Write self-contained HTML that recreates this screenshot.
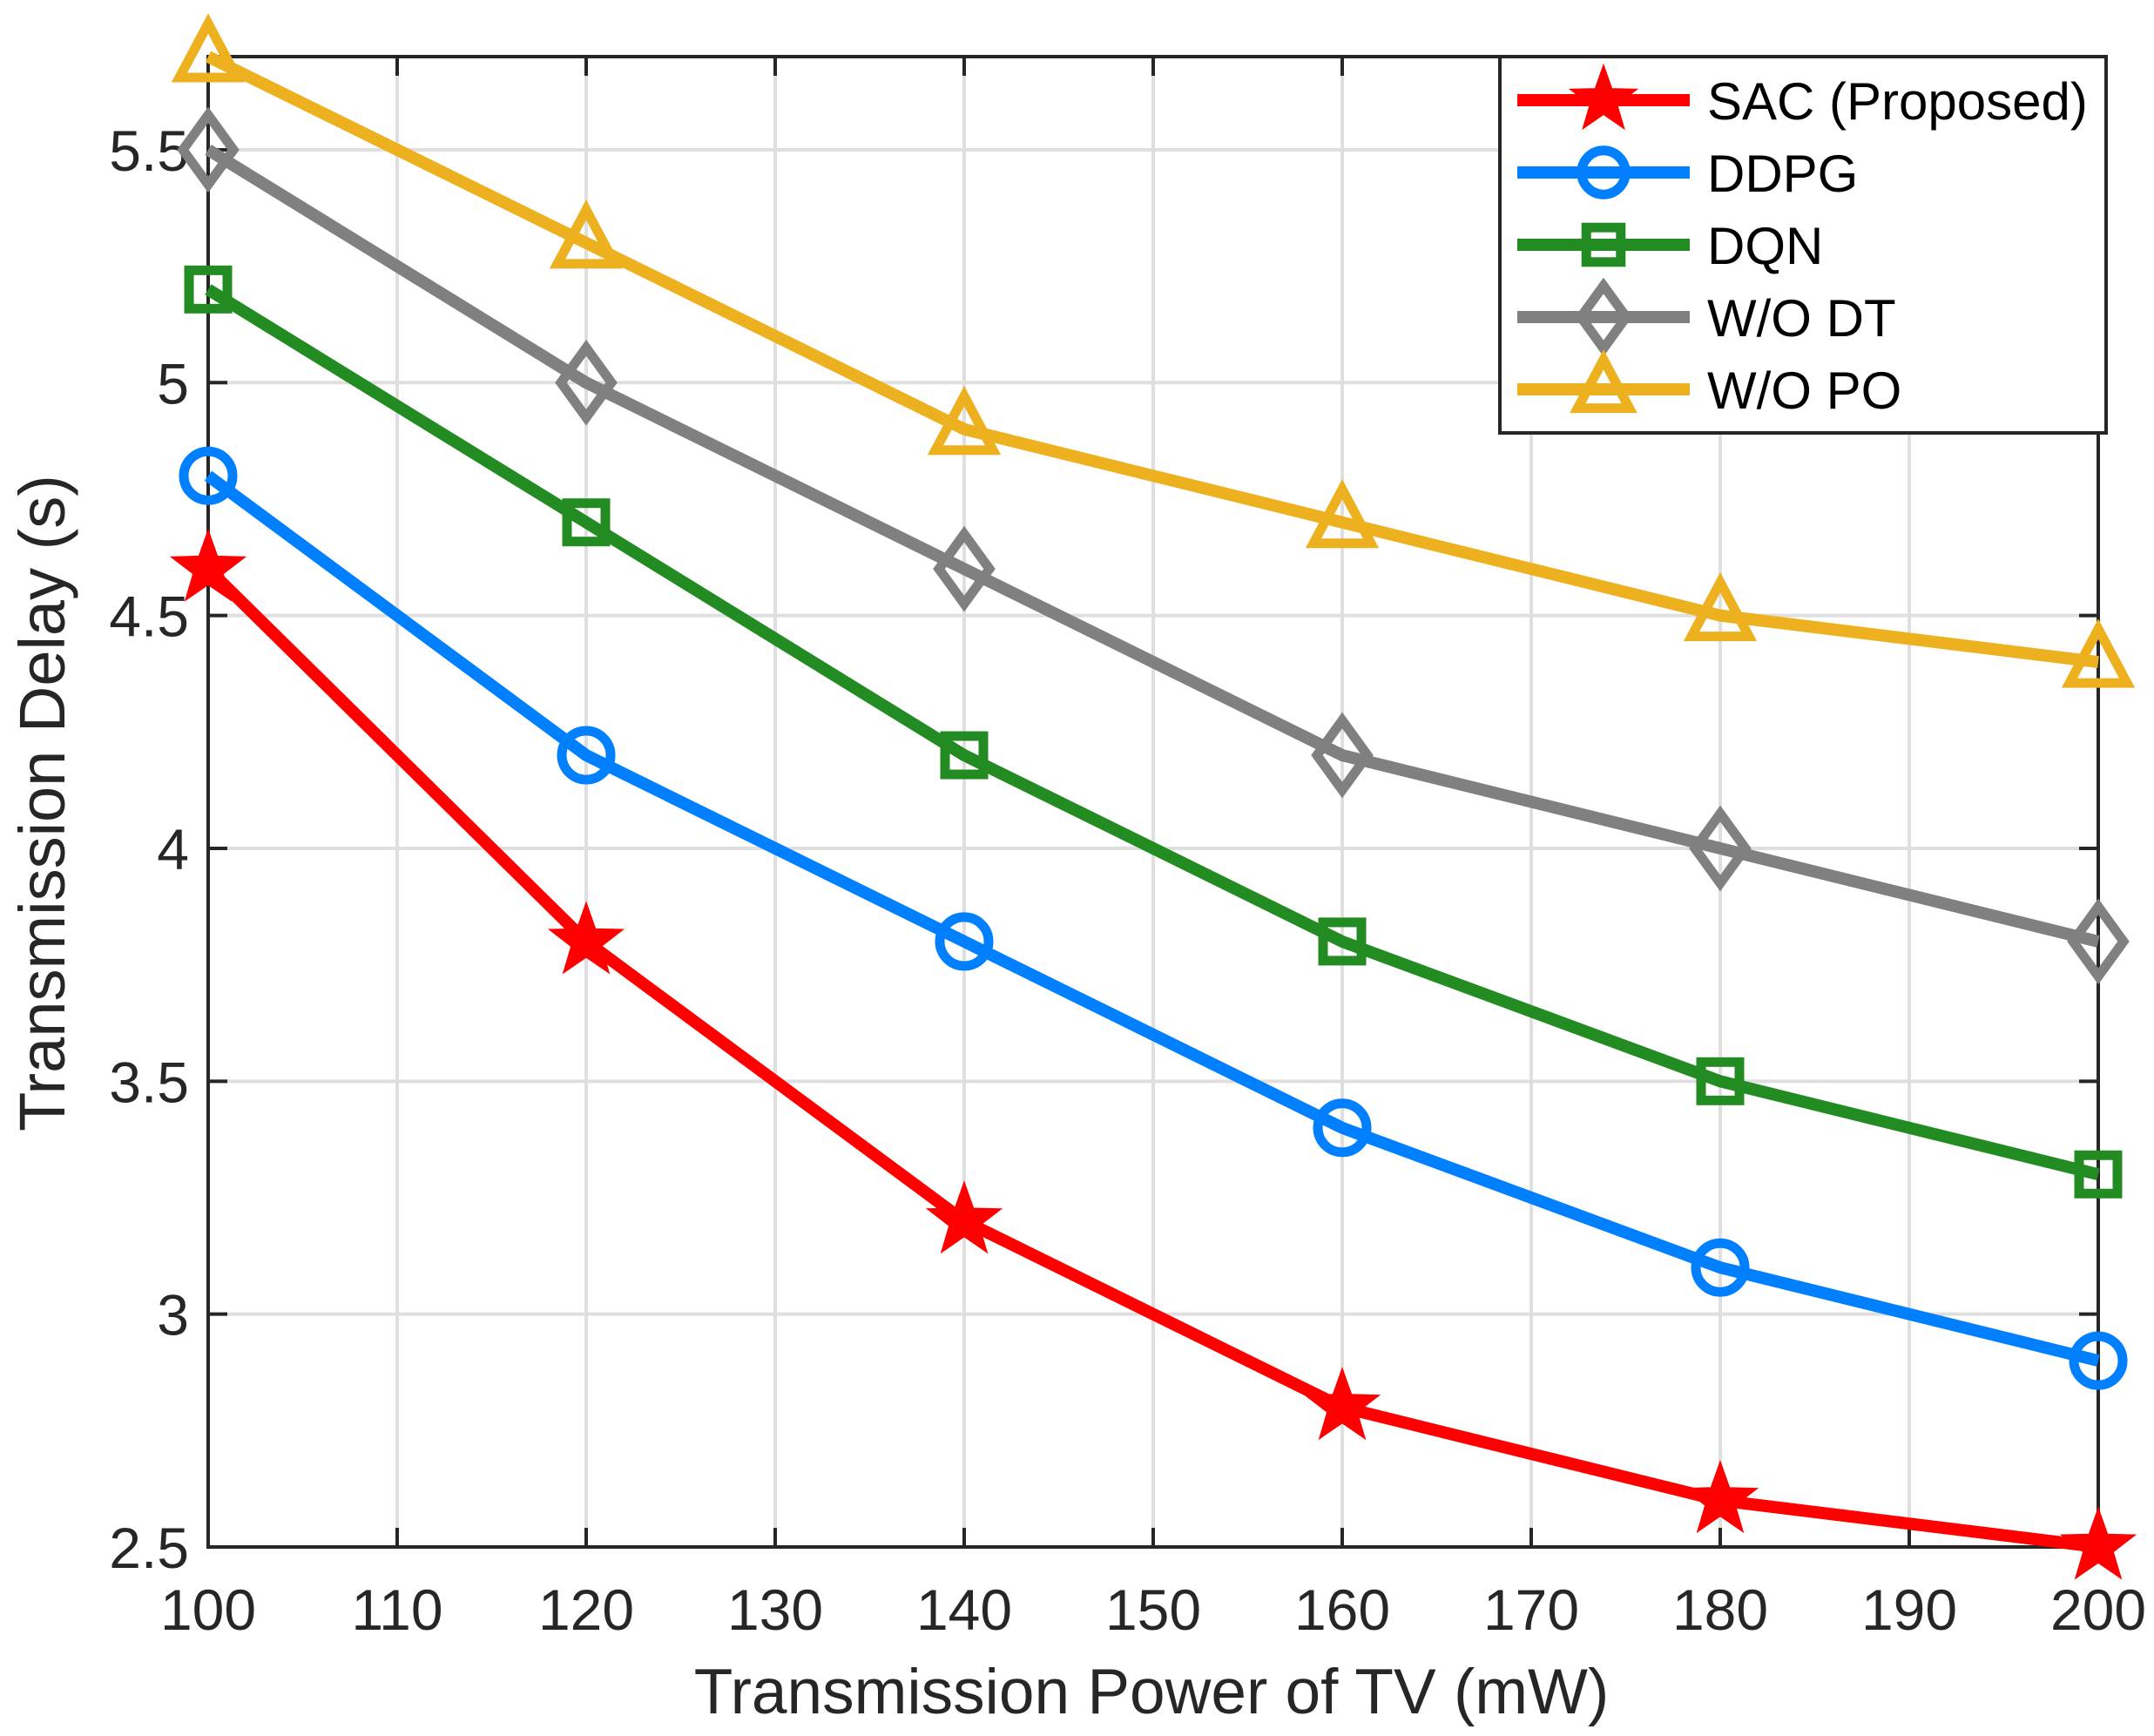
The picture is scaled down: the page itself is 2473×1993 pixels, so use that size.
<!DOCTYPE html>
<html><head><meta charset="utf-8"><style>
html,body{margin:0;padding:0;background:#fff;}
svg{display:block;font-family:"Liberation Sans",Arial,sans-serif;}
</style></head><body>
<svg id="chart" width="2473" height="1993" viewBox="0 0 2473 1993" xmlns="http://www.w3.org/2000/svg">
<rect width="2473" height="1993" fill="#fff"/>
<g id="grid"></g><g id="axes"></g><g id="series"></g><g id="legend"></g>
</svg>
<script>
const xValues = [100, 120, 140, 160, 180, 200];
const sacValues = [4.6, 3.8, 3.2, 2.8, 2.6, 2.5];
const ddpgValues = [4.8, 4.2, 3.8, 3.4, 3.1, 2.9];
const dqnValues = [5.2, 4.7, 4.2, 3.8, 3.5, 3.3];
const woDtValues = [5.5, 5.0, 4.6, 4.2, 4.0, 3.8];
const woPoValues = [5.7, 5.3, 4.9, 4.7, 4.5, 4.4];
const xTicks = [100,110,120,130,140,150,160,170,180,190,200];
const yTicks = [2.5,3,3.5,4,4.5,5,5.5];
const yTickLabels = ["2.5","3","3.5","4","4.5","5","5.5"];
const seriesNames = ["SAC (Proposed)","DDPG","DQN","W/O DT","W/O PO"];

const NS="http://www.w3.org/2000/svg";
const L=239,R=2409,T=65,B=1776,XMIN=100,XMAX=200,YMIN=2.5,YMAX=5.7;
const xs=v=>L+(v-XMIN)/(XMAX-XMIN)*(R-L);
const ys=v=>B-(v-YMIN)/(YMAX-YMIN)*(B-T);
function mk(tag,attrs,parent){const e=document.createElementNS(NS,tag);for(const k in attrs)e.setAttribute(k,attrs[k]);parent.appendChild(e);return e;}
const grid=document.getElementById('grid'),axes=document.getElementById('axes'),ser=document.getElementById('series'),leg=document.getElementById('legend');

xTicks.forEach(t=>{
  const g=mk('line',{x1:xs(t),x2:xs(t),y1:T,y2:B,stroke:'#dfdfdf','stroke-width':4},grid);
  
  
  mk('line',{x1:xs(t),x2:xs(t),y1:B,y2:B-22,stroke:'#262626','stroke-width':4},axes);
  mk('line',{x1:xs(t),x2:xs(t),y1:T,y2:T+22,stroke:'#262626','stroke-width':4},axes);
  const tx=mk('text',{x:xs(t),y:1871,'font-size':66,fill:'#262626','text-anchor':'middle'},axes);
  tx.textContent=t;
  
  
});
yTicks.forEach((t,i)=>{
  const g=mk('line',{x1:L,x2:R,y1:ys(t),y2:ys(t),stroke:'#dfdfdf','stroke-width':4},grid);
  
  
  mk('line',{x1:L,x2:L+22,y1:ys(t),y2:ys(t),stroke:'#262626','stroke-width':4},axes);
  mk('line',{x1:R,x2:R-22,y1:ys(t),y2:ys(t),stroke:'#262626','stroke-width':4},axes);
  const tx=mk('text',{x:L-22,y:ys(t)+24,'font-size':66,fill:'#262626','text-anchor':'end'},axes);
  tx.textContent=yTickLabels[i];
  
  
});
const frame=mk('rect',{x:L,y:T,width:R-L,height:B-T,fill:'none',stroke:'#262626','stroke-width':4},axes);


const xl=mk('text',{x:1322,y:1967,'font-size':73,fill:'#262626','text-anchor':'middle'},axes);
xl.textContent='Transmission Power of TV (mW)';


const yl=mk('text',{x:0,y:0,'font-size':74,fill:'#262626','text-anchor':'middle',transform:'translate(74,922) rotate(-90)'},axes);
yl.textContent='Transmission Delay (s)';



function marker(type,cx,cy,color,parent,s){
  s=s||1;const sw=11;
  if(type==='star'){
    let p=[];for(let k=0;k<10;k++){const r=(k%2?17:42)*s,a=-Math.PI/2+k*Math.PI/5;p.push((cx+r*Math.cos(a)).toFixed(1)+','+(cy+r*Math.sin(a)).toFixed(1));}
    return mk('polygon',{points:p.join(' '),fill:color,stroke:color,'stroke-width':3},parent);
  }
  if(type==='circle')return mk('circle',{cx:cx,cy:cy,r:28*s,fill:'none',stroke:color,'stroke-width':sw},parent);
  if(type==='square')return mk('rect',{x:cx-22*s,y:cy-22*s,width:44*s,height:44*s,fill:'none',stroke:color,'stroke-width':sw},parent);
  if(type==='diamond')return mk('polygon',{points:`${cx},${cy-40*s} ${cx+29*s},${cy} ${cx},${cy+40*s} ${cx-29*s},${cy}`,fill:'none',stroke:color,'stroke-width':sw},parent);
  if(type==='triangle')return mk('polygon',{points:`${cx},${cy-38*s} ${cx+33*s},${cy+24*s} ${cx-33*s},${cy+24*s}`,fill:'none',stroke:color,'stroke-width':sw},parent);
}
const seriesData=[sacValues,ddpgValues,dqnValues,woDtValues,woPoValues];
const colors=['#ff0000','#0080ff','#228b22','#808080','#edb120'];
const markers=['star','circle','square','diamond','triangle'];
const sNames=['series-sac','series-ddpg','series-dqn','series-wo-dt','series-wo-po'];
for(let si=seriesData.length-1;si>=0;si--){
  const g=mk('g',{},ser);
  
  
  const pts=xValues.map((x,i)=>xs(x)+','+ys(seriesData[si][i])).join(' ');
  const pl=mk('polyline',{points:pts,fill:'none',stroke:colors[si],'stroke-width':14,'stroke-linejoin':'round'},g);
  
  
  xValues.forEach((x,i)=>{
    const m=marker(markers[si],xs(x),ys(seriesData[si][i]),colors[si],g);
    
    
  });
}
const box=mk('rect',{x:1722,y:65,width:696,height:432,fill:'#fff',stroke:'#262626','stroke-width':4},leg);


const rowY=[115,198,281,364,447];
seriesNames.forEach((n,i)=>{
  const g=mk('g',{},leg);
  
  
  mk('line',{x1:1742,x2:1940,y1:rowY[i],y2:rowY[i],stroke:colors[i],'stroke-width':14},g);
  marker(markers[i],1841,rowY[i],colors[i],g,0.9);
  const t=mk('text',{x:1960,y:rowY[i]+22,'font-size':60,fill:'#000'},g);
  t.textContent=n;
});
</script>
</body></html>
